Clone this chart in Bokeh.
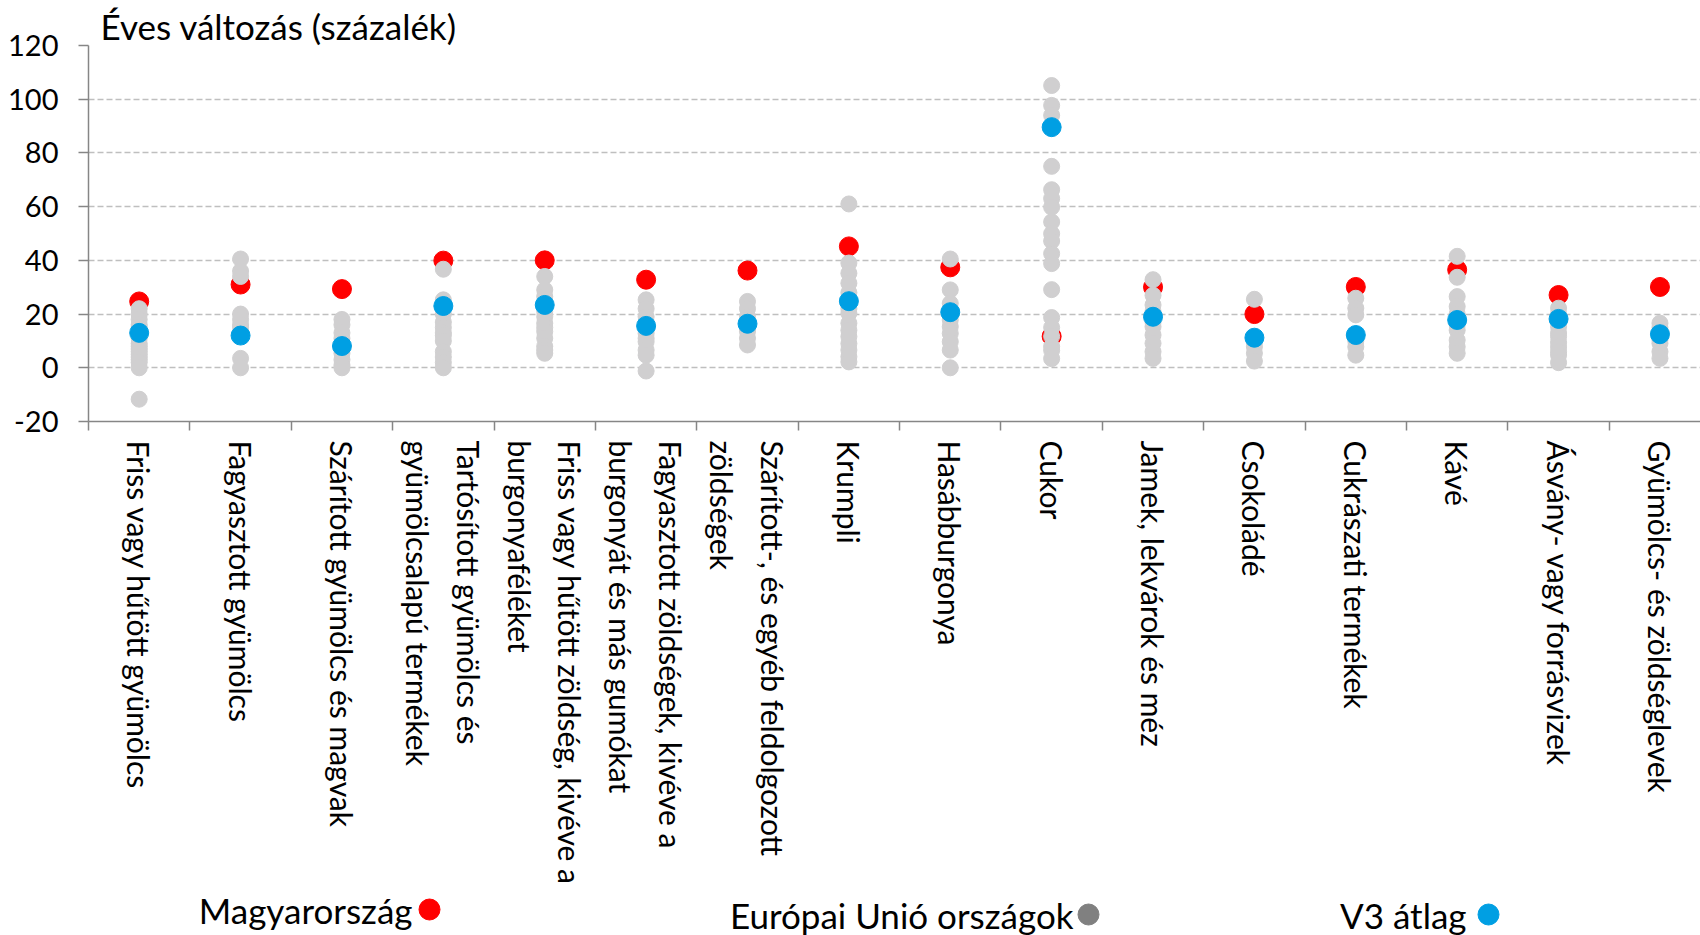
from bokeh.plotting import figure
from bokeh.models import Range1d, FixedTicker, LinearAxis, ColumnDataSource
from bokeh.layouts import column
from bokeh.embed import file_html
from bokeh.resources import INLINE
from bokeh.core.properties import value

# ---------------- data ----------------
categories = [
    "Friss vagy hűtött gyümölcs",
    "Fagyasztott gyümölcs",
    "Szárított gyümölcs és magvak",
    "Tartósított gyümölcs és\ngyümölcsalapú termékek",
    "Friss vagy hűtött zöldség, kivéve a\nburgonyaféléket",
    "Fagyasztott zöldségek, kivéve a\nburgonyát és más gumókat",
    "Szárított-, és egyéb feldolgozott\nzöldségek",
    "Krumpli",
    "Hasábburgonya",
    "Cukor",
    "Jamek, lekvárok és méz",
    "Csokoládé",
    "Cukrászati termékek",
    "Kávé",
    "Ásvány- vagy forrásvizek",
    "Gyümölcs- és zöldséglevek",
]

hungary = [24.7, 31.0, 29.3, 39.9, 40.0, 32.8, 36.2, 45.2, 37.4, 11.7, 30.0, 20.0, 30.1, 36.5, 27.1, 30.1]
v3_avg = [13.0, 12.0, 8.1, 23.0, 23.4, 15.6, 16.4, 24.8, 20.7, 89.6, 19.0, 11.2, 12.2, 17.8, 18.2, 12.5]

eu_countries = [
    [22, 20, 18, 16, 15, 11, 9, 8, 7, 6, 5, 4, 3, 2, 0, -11.7],
    [40.5, 36, 34, 20, 18, 16, 15, 13, 3.5, 0],
    [18, 16, 13, 11, 9, 7, 5.4, 3, 1, 0],
    [36.7, 25.3, 24, 20, 17, 15, 13, 12, 10, 6, 4, 2, 0],
    [34, 29, 26.5, 21, 19, 16.6, 15, 13.5, 11, 8, 6.6, 5.4],
    [25.3, 22, 19, 17, 14, 12.8, 11, 9.7, 6.6, 4.7, -1.2],
    [24.7, 22, 19, 14.5, 13.5, 11, 8.5],
    [61, 39, 35.2, 31.5, 28, 22, 20.3, 16.6, 14, 11.6, 9, 6.6, 4.1, 2.2],
    [40.5, 29, 24, 17.8, 15.3, 12.8, 9.7, 6.6, 0],
    [105.1, 97.7, 94, 75, 66.3, 63, 59.8, 54.3, 49.9, 47.2, 42.5, 38.8, 29.1, 18.7, 15, 11.7, 8, 6.5, 3.4],
    [32.8, 27, 23.4, 21, 17, 15.3, 12.2, 9.1, 6, 3.5],
    [25.5, 9.5, 7.8, 5.4, 2.5],
    [25.9, 22.2, 19.7, 10, 7.8, 4.7],
    [41.5, 33.7, 26.5, 22.8, 20, 16, 14, 10.3, 7.8, 5.4],
    [22.2, 20, 15.3, 13, 11.6, 9.5, 7.8, 6, 4.7, 1.9],
    [16.6, 15, 10.5, 9.1, 6, 3.5],
]

y_ticks = [-20, 0, 20, 40, 60, 80, 100, 120]
y_tick_labels = ["-20", "0", "20", "40", "60", "80", "100", "120"]
title_text = "Éves változás (százalék)"
legend_labels = ["Magyarország", "Európai Unió országok", "V3 átlag"]

# ---------------- style ----------------
FONT = "Lato"
RED = "#FF0000"
BLUE = "#009FE3"
GRAY = "#D0CFD0"
LEG_GRAY = "#808080"
AXIS = "#868686"
GRID = "#BFBFBF"

idx = list(range(len(categories)))
src_hu = ColumnDataSource(dict(x=idx, y=hungary))
src_v3 = ColumnDataSource(dict(x=idx, y=v3_avg))
eu_x, eu_y = [], []
for i, vals in enumerate(eu_countries):
    for v in vals:
        eu_x.append(i)
        eu_y.append(v)
src_eu = ColumnDataSource(dict(x=eu_x, y=eu_y))

n = len(categories)
p = figure(width=1700, height=888,
           x_range=Range1d(-0.5, n - 0.6), y_range=Range1d(-20, 120),
           output_backend="svg", toolbar_location=None, x_axis_location=None,
           min_border_left=88, min_border_right=0, min_border_top=45,
           min_border_bottom=467)
p.outline_line_color = None
p.background_fill_color = "white"
p.xgrid.visible = False

p.title.text = title_text
p.title.text_font = FONT
p.title.text_font_size = "35px"
p.title.text_font_style = "normal"
p.title.text_color = "black"
p.title.align = "left"
p.title.offset = 12
p.title.standoff = -3

yax = p.yaxis[0]
yax.ticker = FixedTicker(ticks=y_ticks)
yax.major_label_overrides = dict(zip(y_ticks, y_tick_labels))
yax.major_label_text_font = FONT
yax.major_label_text_font_size = "29px"
yax.major_label_text_color = "black"
yax.major_tick_out = 10
yax.major_tick_in = 0
yax.minor_tick_line_color = None
yax.axis_line_color = AXIS
yax.axis_line_width = 1.5
yax.major_tick_line_color = AXIS
yax.major_tick_line_width = 1.5
yax.major_label_standoff = 20

p.ygrid.ticker = FixedTicker(ticks=y_ticks)
p.ygrid.grid_line_color = GRID
p.ygrid.grid_line_dash = "6 3"
p.ygrid.grid_line_width = 1.5

label_axis = LinearAxis(
    ticker=FixedTicker(ticks=idx, minor_ticks=[i - 0.5 for i in range(n + 1)]),
    major_label_overrides={i: c for i, c in zip(idx, categories)},
    major_label_orientation="vertical",
    major_label_text_font=FONT,
    major_label_text_font_size="30px",
    major_label_text_line_height=1.4,
    major_label_text_color="black",
    major_label_standoff=10,
    axis_line_color=AXIS, axis_line_width=1.5,
    major_tick_line_color=None, major_tick_out=0, major_tick_in=0,
    minor_tick_line_color=AXIS, minor_tick_line_width=1.5,
    minor_tick_out=9, minor_tick_in=0)
p.add_layout(label_axis, "below")

p.scatter("x", "y", source=src_hu, size=19, color=RED)
p.scatter("x", "y", source=src_eu, size=16, color=GRAY)
p.scatter("x", "y", source=src_v3, size=19, color=BLUE)

# ---------------- legend (frame aligned with the main frame: 88..1700 px) ----------------
leg = figure(width=1700, height=47, x_range=Range1d(88, 1700), y_range=Range1d(0, 47),
             output_backend="svg", toolbar_location=None,
             x_axis_location=None, y_axis_location=None,
             min_border=0, min_border_left=0, min_border_right=0,
             min_border_top=0, min_border_bottom=0)
leg.grid.visible = False
leg.outline_line_color = None
leg_text_right = [412, 1073, 1466]
leg_dot_x = [429, 1088, 1488]
leg_y = [26, 21, 21]
leg_colors = [RED, LEG_GRAY, BLUE]
leg.text(x=leg_text_right, y=leg_y, text=legend_labels, text_align="right",
         text_baseline="middle", text_font=value(FONT), text_font_size="35px",
         text_color="black")
leg.scatter(x=leg_dot_x, y=leg_y, size=21, color=leg_colors)

layout = column(p, leg, spacing=0)
open("out.html", "w").write(file_html(layout, INLINE))
